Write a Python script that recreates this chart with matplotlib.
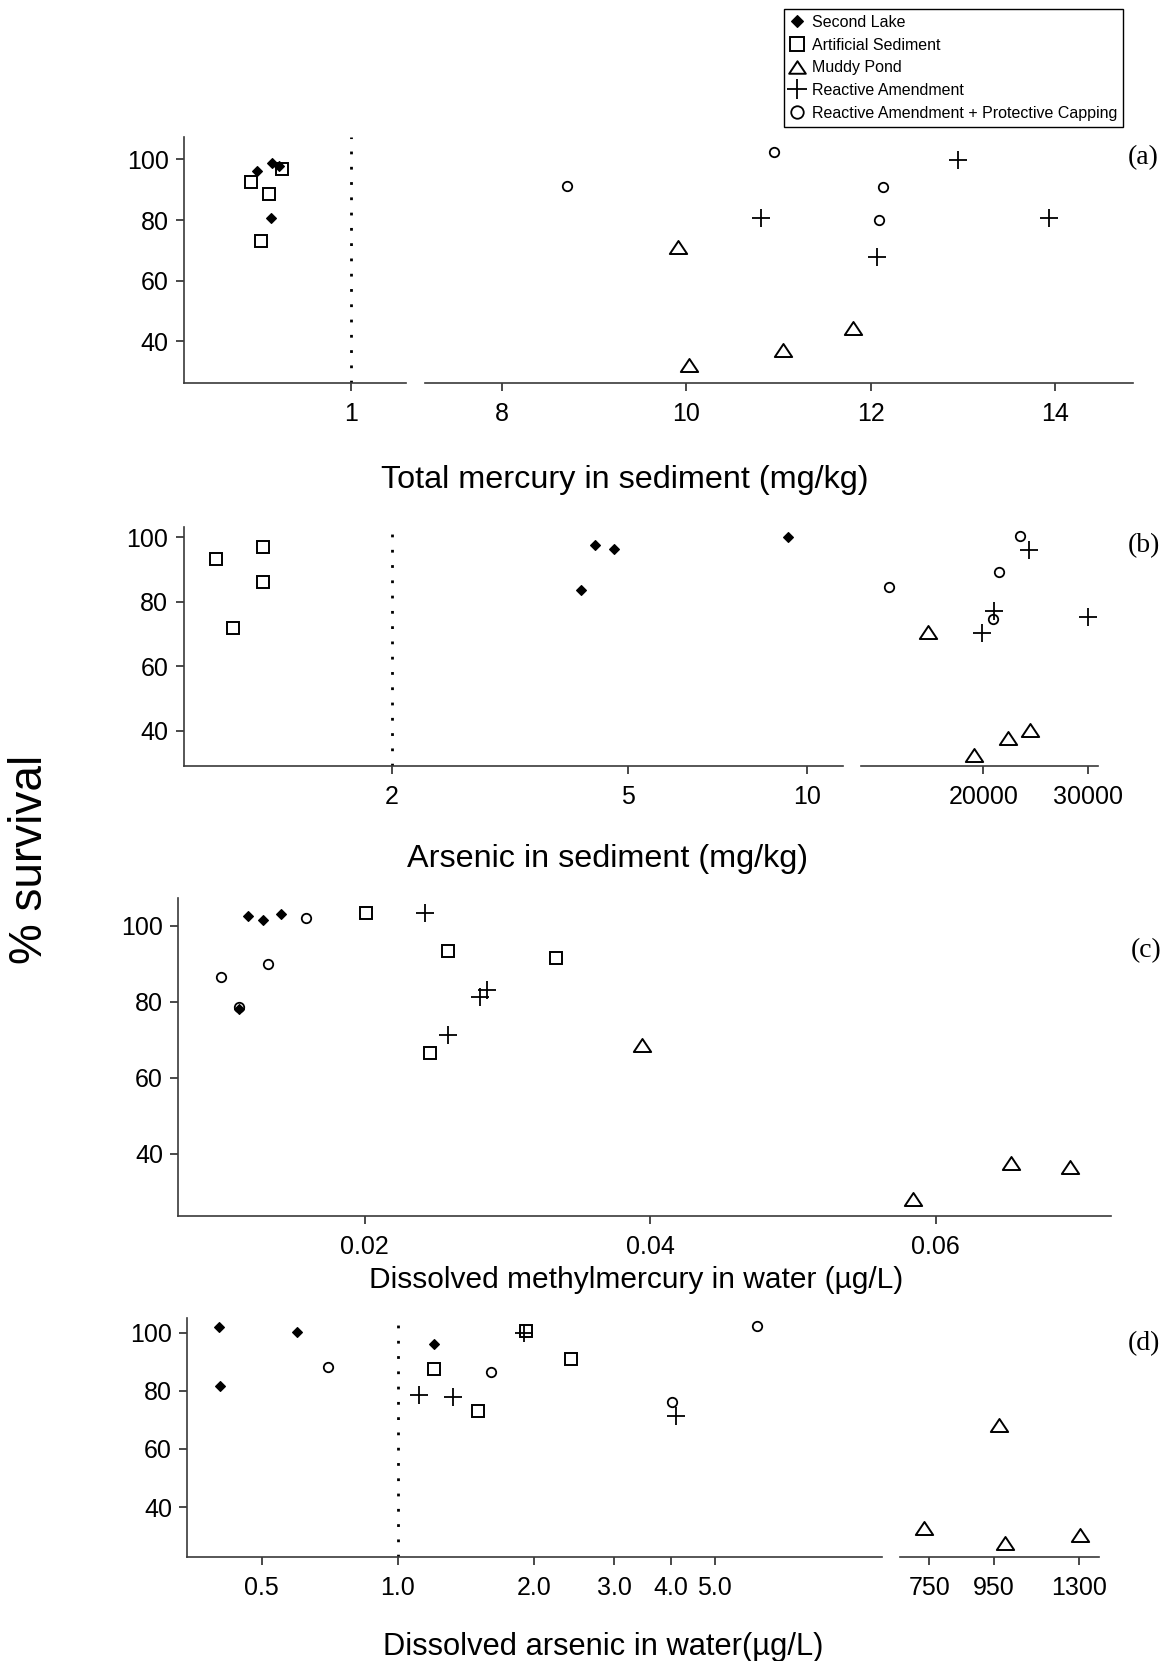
import matplotlib
matplotlib.use('Agg')
import matplotlib.pyplot as plt
from matplotlib.path import Path
from matplotlib.lines import Line2D
from matplotlib.ticker import NullLocator, FixedLocator, FixedFormatter

plt.rcParams['font.family'] = ['Liberation Sans', 'DejaVu Sans']

# ------------------------------------------------------------------ data
labels = ["Second Lake", "Artificial Sediment", "Muddy Pond",
          "Reactive Amendment", "Reactive Amendment + Protective Capping"]

# (a) Total mercury in sediment (mg/kg)
a_sl_x = [0.44, 0.53, 0.57, 0.52]
a_sl_y = [96.1, 98.8, 97.9, 80.8]
a_as_x = [0.40, 0.51, 0.59, 0.46]
a_as_y = [92.5, 88.7, 96.9, 73.1]
a_mp_x = [9.91, 10.03, 11.05, 11.81]
a_mp_y = [71.1, 32.1, 37.1, 44.2]
a_ra_x = [12.95, 10.81, 12.07, 13.94]
a_ra_y = [99.7, 80.7, 67.8, 80.7]
a_rc_x = [8.70, 10.95, 12.13, 12.09]
a_rc_y = [91.2, 102.4, 90.9, 79.9]

# (b) Arsenic in sediment (mg/kg)
b_sl_x = [4.16, 4.39, 4.73, 9.30]
b_sl_y = [83.7, 97.6, 96.3, 100.2]
b_as_x = [1.01, 1.21, 1.21, 1.08]
b_as_y = [93.2, 97.1, 86.2, 71.8]
b_mp_x = [14760, 19110, 22380, 24450]
b_mp_y = [70.7, 32.5, 37.7, 40.2]
b_ra_x = [24350, 21050, 19900, 30000]
b_ra_y = [96.1, 77.2, 70.4, 75.2]
b_rc_x = [23500, 21520, 10950, 20950]
b_rc_y = [100.4, 89.1, 84.5, 74.6]

# (c) Dissolved methylmercury in water (ug/L)
c_sl_x = [0.0118, 0.0129, 0.0141, 0.0112]
c_sl_y = [102.6, 101.5, 103.1, 78.1]
c_as_x = [0.0201, 0.0258, 0.0334, 0.0246]
c_as_y = [103.4, 93.3, 91.4, 66.4]
c_mp_x = [0.0394, 0.0584, 0.0653, 0.0694]
c_mp_y = [68.6, 28.0, 37.5, 36.6]
c_ra_x = [0.0242, 0.0281, 0.0286, 0.0258]
c_ra_y = [103.3, 81.2, 83.1, 71.2]
c_rc_x = [0.0159, 0.0099, 0.0132, 0.0112]
c_rc_y = [101.9, 86.4, 89.8, 78.7]

# (d) Dissolved arsenic in water (ug/L)
d_sl_x = [0.402, 0.404, 0.599, 1.20]
d_sl_y = [101.9, 81.7, 100.1, 96.1]
d_as_x = [1.92, 1.20, 2.41, 1.50]
d_as_y = [100.7, 87.4, 91.0, 73.1]
d_mp_x = [969, 737, 991, 1302]
d_mp_y = [68.3, 33.0, 27.6, 30.5]
d_ra_x = [1.90, 1.11, 1.32, 4.10]
d_ra_y = [99.8, 78.6, 77.8, 71.5]
d_rc_x = [0.702, 1.60, 4.02, 6.18]
d_rc_y = [88.0, 86.6, 76.3, 102.1]

y_ticks = [40, 60, 80, 100]

# ------------------------------------------------------------------ styling
W, H = 1169, 1661
fig = plt.figure(figsize=(W / 100, H / 100), dpi=100)

SPINE = '#3a3a3a'
TICK_FS = 18

tri = Path([(0, 0.75), (-1, -0.75), (1, -0.75), (0, 0.75)],
           [Path.MOVETO, Path.LINETO, Path.LINETO, Path.CLOSEPOLY])

styles = [
    dict(marker='D', ms=4.8, mfc='black', mec='black', mew=0.8),
    dict(marker='s', ms=8.5, mfc='none', mec='black', mew=1.4),
    dict(marker=tri, ms=12.5, mfc='none', mec='black', mew=1.4),
    dict(marker='+', ms=13, mfc='none', mec='black', mew=1.3),
    dict(marker='o', ms=6.8, mfc='none', mec='black', mew=1.3),
]


def add_ax(x0, x1, ytop, ybot, yaxis=True):
    ax = fig.add_axes([x0 / W, 1 - ybot / H, (x1 - x0) / W, (ybot - ytop) / H])
    ax.set_facecolor('none')
    for s in ['top', 'right']:
        ax.spines[s].set_visible(False)
    for s in ['left', 'bottom']:
        ax.spines[s].set_color(SPINE)
        ax.spines[s].set_linewidth(1.2)
    ax.tick_params(direction='out', length=6, width=1.3, colors=SPINE,
                   labelcolor='black', labelsize=TICK_FS, pad=5)
    ax.tick_params(axis='x', pad=8)
    if yaxis:
        ax.set_yticks(y_ticks)
    else:
        ax.spines['left'].set_visible(False)
        ax.set_yticks([])
    return ax


def plot_series(axes, series):
    for ax in axes:
        for (x, y), st in zip(series, styles):
            ax.plot(x, y, linestyle='none', clip_on=True, **st)


def set_ticks(ax, ticks, ticklabels=None):
    ax.xaxis.set_major_locator(FixedLocator(ticks))
    ax.xaxis.set_minor_locator(NullLocator())
    if ticklabels is None:
        ticklabels = [str(t) for t in ticks]
    ax.xaxis.set_major_formatter(FixedFormatter(ticklabels))


def vdotted(ax, x):
    ax.axvline(x, color='black', lw=2.0, linestyle=(0, (1, 4.5)), zorder=1)


# ---------------- panel (a)
aL = add_ax(184, 406, 137, 383)
aR = add_ax(425, 1133, 137, 383, yaxis=False)
for ax in (aL, aR):
    ax.set_ylim(26.2, 107.4)
aL.set_xlim(0, 1.33)
aR.set_xlim(7.16, 14.85)
set_ticks(aL, [1])
set_ticks(aR, [8, 10, 12, 14])
vdotted(aL, 1)
plot_series([aL, aR], [(a_sl_x, a_sl_y), (a_as_x, a_as_y), (a_mp_x, a_mp_y),
                       (a_ra_x, a_ra_y), (a_rc_x, a_rc_y)])

# ---------------- panel (b)
bL = add_ax(183.5, 843, 527, 766)
bR = add_ax(861, 1098, 527, 766, yaxis=False)
for ax in (bL, bR):
    ax.set_ylim(29.05, 103.2)
bL.set_xscale('log')
bL.set_xlim(0.89, 11.5)
bR.set_xlim(8324, 30924)
set_ticks(bL, [2, 5, 10])
set_ticks(bR, [20000, 30000])
vdotted(bL, 2)
plot_series([bL, bR], [(b_sl_x, b_sl_y), (b_as_x, b_as_y), (b_mp_x, b_mp_y),
                       (b_ra_x, b_ra_y), (b_rc_x, b_rc_y)])

# ---------------- panel (c)
cA = add_ax(178.3, 1111, 898.3, 1216)
cA.set_ylim(23.6, 107.2)
cA.set_xlim(0.00693, 0.0723)
set_ticks(cA, [0.02, 0.04, 0.06])
plot_series([cA], [(c_sl_x, c_sl_y), (c_as_x, c_as_y), (c_mp_x, c_mp_y),
                   (c_ra_x, c_ra_y), (c_rc_x, c_rc_y)])

# ---------------- panel (d)
dL = add_ax(187.3, 882.3, 1318.3, 1556.7)
dR = add_ax(900, 1099.3, 1318.3, 1556.7, yaxis=False)
for ax in (dL, dR):
    ax.set_ylim(23.0, 104.9)
dL.set_xscale('log')
dR.set_xscale('log')
dL.set_xlim(0.343, 11.7)
dR.set_xlim(674, 1399)
set_ticks(dL, [0.5, 1, 2, 3, 4, 5], ['0.5', '1.0', '2.0', '3.0', '4.0', '5.0'])
set_ticks(dR, [750, 950, 1300])
vdotted(dL, 1)
plot_series([dL, dR], [(d_sl_x, d_sl_y), (d_as_x, d_as_y), (d_mp_x, d_mp_y),
                       (d_ra_x, d_ra_y), (d_rc_x, d_rc_y)])

# ---------------- text
fig.text(624.8 / W, 1 - 480 / H, 'Total mercury in sediment (mg/kg)',
         ha='center', va='center', fontsize=23.3)
fig.text(607.8 / W, 1 - 859 / H, 'Arsenic in sediment (mg/kg)',
         ha='center', va='center', fontsize=23.3)
fig.text(636.4 / W, 1 - 1280.5 / H, 'Dissolved methylmercury in water (\u00b5g/L)',
         ha='center', va='center', fontsize=21.5)
fig.text(603.6 / W, 1 - 1646.5 / H, 'Dissolved arsenic in water(\u00b5g/L)',
         ha='center', va='center', fontsize=22.2)
fig.text(30 / W, 1 - 859 / H, '% survival', rotation=90,
         ha='center', va='center', fontsize=33)

for lab, (px, py) in zip(['(a)', '(b)', '(c)', '(d)'],
                         [(1143.6, 157.5), (1143.6, 546), (1145.7, 951), (1143.6, 1344)]):
    fig.text(px / W, 1 - py / H, lab, ha='center', va='center', fontsize=20,
             family=['Liberation Serif', 'DejaVu Serif'])

# ---------------- legend
leg_sizes = [6.5, 9.5, 12, 14, 9]
handles = []
for st, ms in zip(styles, leg_sizes):
    st2 = dict(st)
    st2['ms'] = ms
    handles.append(Line2D([], [], linestyle='none', **st2))
leg = fig.legend(handles, labels, loc='upper left',
                 bbox_to_anchor=(783.6 / W, 1 - 8.5 / H), fontsize=11.5,
                 handlelength=0.9, handletextpad=0.45, borderpad=0.4,
                 labelspacing=0.48, borderaxespad=0, fancybox=False,
                 framealpha=1, edgecolor='black')
leg.get_frame().set_linewidth(1.0)

fig.savefig('out.png', dpi=100)
